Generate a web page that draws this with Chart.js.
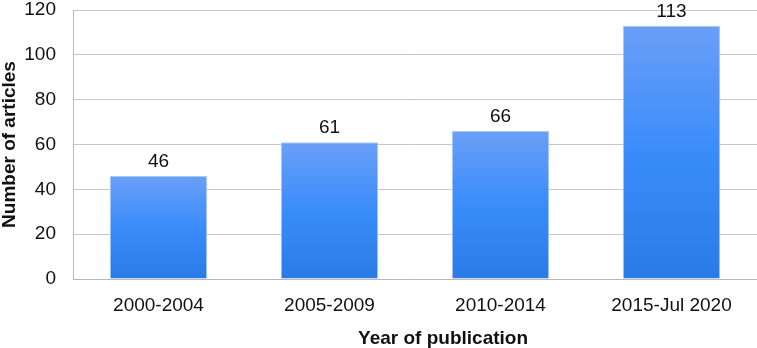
<!DOCTYPE html>
<html>
<head>
<meta charset="utf-8">
<script src="https://cdn.jsdelivr.net/npm/chart.js@4.4.0/dist/chart.umd.min.js"></script>
<style>
  html, body { margin: 0; padding: 0; background: #fff; }
  #wrap { width: 757px; height: 348px; position: relative; }
</style>
</head>
<body>
<div id="wrap"><canvas id="articles-canvas"></canvas></div>
<script>
var periods = ['2000-2004', '2005-2009', '2010-2014', '2015-Jul 2020'];
var articleCounts = [46, 61, 66, 113];
var yTicks = [0, 20, 40, 60, 80, 100, 120];
var xTitle = 'Year of publication';

var fontFamily = '"Liberation Sans", Arial, sans-serif';

// blue gradient from top of each bar down to the baseline
function barFill(context) {
    var chart = context.chart;
    if (!chart.chartArea) return '#3a8cf8';
    var yScale = chart.scales.y;
    var top = yScale.getPixelForValue(context.parsed ? context.parsed.y : 0);
    var base = yScale.getPixelForValue(0);
    if (!isFinite(top) || top === base) return '#3a8cf8';
    var g = chart.ctx.createLinearGradient(0, top, 0, base);
    g.addColorStop(0, '#6a9ff7');
    g.addColorStop(0.5, '#3a8cfb');
    g.addColorStop(1, '#2a7be6');
    return g;
}

// numbers above the bars + the x title (sits a bit right of centre in the original)
var valueLabels = {
    id: 'valueLabels',
    afterDatasetsDraw: function(chart) {
        var ctx = chart.ctx;
        var meta = chart.getDatasetMeta(0);
        ctx.save();
        ctx.font = '19px ' + fontFamily;
        ctx.fillStyle = '#111';
        ctx.textAlign = 'center';
        ctx.textBaseline = 'alphabetic';
        meta.data.forEach(function(bar, i) {
            ctx.fillText(String(articleCounts[i]), bar.x, bar.y - 9);
        });
        var area = chart.chartArea;
        ctx.font = 'bold 19px ' + fontFamily;
        ctx.textBaseline = 'middle';
        ctx.fillText(xTitle, area.left + (area.right - area.left) * 0.541, chart.height - 9.5);
        ctx.restore();
    }
};

var canvas = document.getElementById('articles-canvas').getContext('2d');

new Chart(canvas, {
    type: 'bar',
    data: {
        labels: periods,
        datasets: [{
            label: 'Articles',
            data: articleCounts,
            backgroundColor: barFill,
            borderColor: 'rgba(160,195,250,0.9)',
            borderWidth: 1,
            categoryPercentage: 1,
            barPercentage: 0.57
        }]
    },
    options: {
        responsive: true,
        maintainAspectRatio: false,
        animation: false,
        layout: { padding: 0 },
        plugins: {
            legend: { display: false },
            tooltip: { enabled: false }
        },
        scales: {
            y: {
                min: 0,
                max: 120,
                afterBuildTicks: function(axis) {
                    axis.ticks = yTicks.map(function(v) { return { value: v }; });
                },
                afterFit: function(scale) {
                    scale.width = 73;
                    scale.paddingTop = 10;
                    scale.paddingBottom = 0;
                },
                ticks: {
                    color: '#111',
                    padding: 17,
                    font: { family: fontFamily, size: 19 }
                },
                grid: {
                    color: '#c8c8c8',
                    lineWidth: 1,
                    drawTicks: false
                },
                border: { display: true, color: '#b8b8b8' },
                title: {
                    display: true,
                    text: 'Number of articles',
                    color: '#111',
                    padding: 0,
                    font: { family: fontFamily, size: 19, weight: 'bold', lineHeight: 1 }
                }
            },
            x: {
                afterFit: function(scale) {
                    scale.height = 69;
                    scale.paddingLeft = 0;
                    scale.paddingRight = 0;
                },
                ticks: {
                    color: '#111',
                    padding: 15,
                    font: { family: fontFamily, size: 19 }
                },
                grid: { display: false, drawTicks: false },
                border: { display: true, color: '#b8b8b8' }
            }
        }
    },
    plugins: [valueLabels]
});
</script>
</body>
</html>
